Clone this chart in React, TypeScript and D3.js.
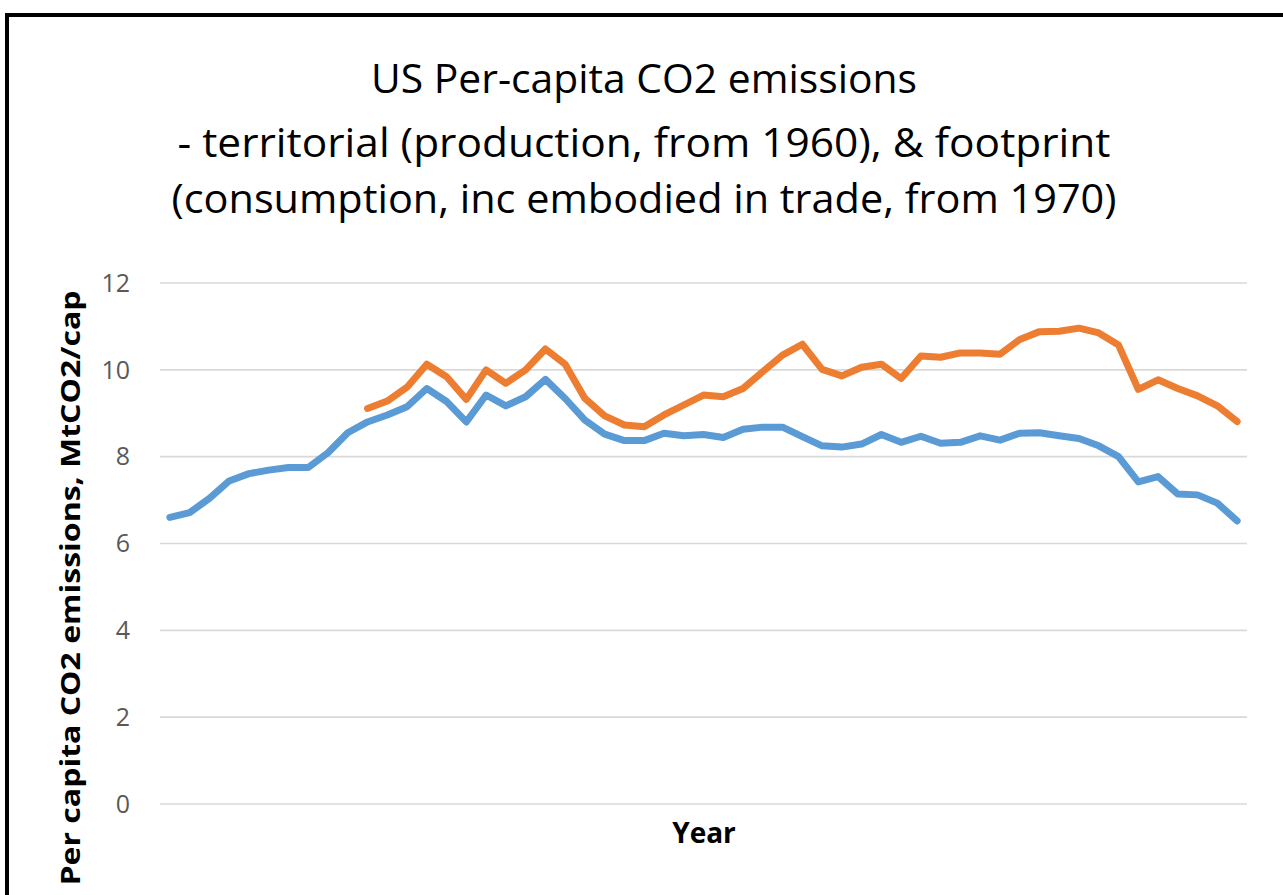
import * as d3 from 'd3';

const years = d3.range(1960, 2015);

// territorial (production) per-capita emissions, 1960-2014
const territorial = [
  6.60, 6.71, 7.04, 7.44, 7.61, 7.69, 7.75, 7.75, 8.09, 8.55,
  8.80, 8.96, 9.15, 9.57, 9.27, 8.80, 9.42, 9.17, 9.38, 9.78,
  9.34, 8.84, 8.52, 8.37, 8.37, 8.54, 8.48, 8.51, 8.44, 8.63,
  8.68, 8.68, 8.46, 8.25, 8.22, 8.29, 8.51, 8.33, 8.47, 8.31,
  8.33, 8.48, 8.38, 8.54, 8.55, 8.48, 8.42, 8.25, 8.00, 7.42,
  7.54, 7.14, 7.12, 6.93, 6.52,
];

// footprint (consumption) per-capita emissions, 1970-2014
const footprintStart = 1970;
const footprint = [
  9.11, 9.28, 9.60, 10.13, 9.84, 9.32, 10.00, 9.69, 10.00, 10.48,
  10.13, 9.34, 8.94, 8.73, 8.69, 8.96, 9.19, 9.42, 9.38, 9.57,
  9.96, 10.34, 10.59, 10.01, 9.86, 10.06, 10.13, 9.80, 10.32, 10.29,
  10.39, 10.39, 10.36, 10.70, 10.88, 10.89, 10.96, 10.85, 10.57, 9.55,
  9.77, 9.57, 9.40, 9.17, 8.81,
];

const yTicks = [0, 2, 4, 6, 8, 10, 12];

const titleLines = [
  'US Per-capita CO2 emissions',
  '- territorial (production, from 1960), & footprint',
  '(consumption, inc embodied in trade, from 1970)',
];

const App = () => {
  const width = 1283;
  const height = 895;
  const plot = { left: 160, right: 1247, top: 283, bottom: 804 };

  const xScale = d3.scaleBand<number>()
    .domain(years)
    .range([plot.left, plot.right]);
  const yScale = d3.scaleLinear()
    .domain([0, 12])
    .range([plot.bottom, plot.top]);

  const cx = (yr: number) => xScale(yr)! + xScale.bandwidth() / 2;

  const line = d3.line<[number, number]>()
    .x((d) => cx(d[0]))
    .y((d) => yScale(d[1]));

  const terrPts: [number, number][] = territorial.map((v, i) => [years[i], v]);
  const footPts: [number, number][] = footprint.map((v, i) => [footprintStart + i, v]);

  const font = '"Open Sans", "Noto Sans", sans-serif';
  const titleWidths = [546, 933, 945];
  const titleBase = [93, 157, 213];

  return (
    <svg width={width} height={height} style={{ position: 'absolute', left: 0, top: 0, background: '#fff' }}>
      <rect x={0} y={0} width={width} height={height} fill="#fff" />
      <rect x={7} y={15} width={1320} height={920} fill="none" stroke="#000" strokeWidth={4} />

      {titleLines.map((t, i) => (
        <text
          key={i}
          x={644}
          y={titleBase[i]}
          textAnchor="middle"
          fontFamily={font}
          fontSize={41}
          fill="#000"
          textLength={titleWidths[i]}
          lengthAdjust="spacingAndGlyphs"
        >{t}</text>
      ))}

      {yTicks.map((t) => (
        <g key={t}>
          <line
            x1={plot.left}
            x2={plot.right}
            y1={yScale(t)}
            y2={yScale(t)}
            stroke="#d9d9d9"
            strokeWidth={1.6}
          />
          <text
            x={130}
            y={yScale(t)}
            dy="0.35em"
            textAnchor="end"
            fontFamily={font}
            fontSize={25}
            fill="#595959"
          >{t}</text>
        </g>
      ))}

      <path d={line(terrPts)!} fill="none" stroke="#5B9BD5" strokeWidth={7} strokeLinejoin="round" strokeLinecap="round" />
      <path d={line(footPts)!} fill="none" stroke="#ED7D31" strokeWidth={7} strokeLinejoin="round" strokeLinecap="round" />

      <text
        x={704}
        y={843}
        textAnchor="middle"
        fontFamily={font}
        fontWeight="bold"
        fontSize={28}
        fill="#000"
      >Year</text>

      <text
        transform={`translate(80, 588) rotate(-90)`}
        textAnchor="middle"
        fontFamily={font}
        fontWeight="bold"
        fontSize={26}
        fill="#000"
        textLength={595}
        lengthAdjust="spacingAndGlyphs"
      >Per capita CO2 emissions, MtCO2/cap</text>
    </svg>
  );
};

export default App;
